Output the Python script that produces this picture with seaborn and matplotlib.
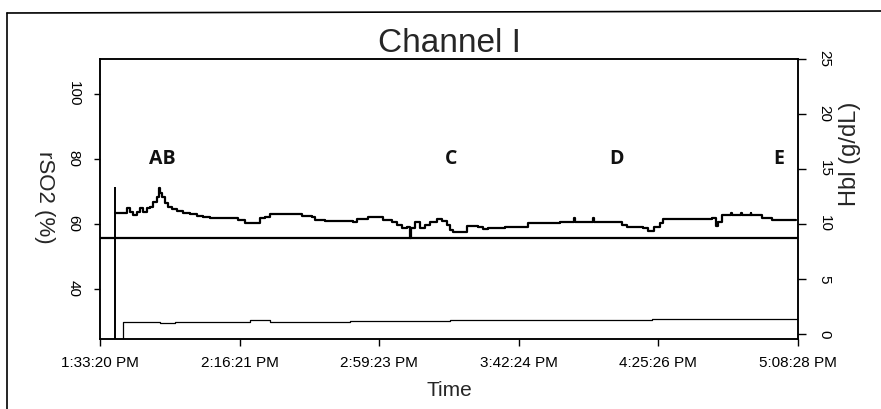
import matplotlib
matplotlib.use("Agg")
import matplotlib.pyplot as plt
from matplotlib.lines import Line2D
import seaborn as sns
import pandas as pd

# ---- data -------------------------------------------------------------
tick_labels = ["1:33:20 PM", "2:16:21 PM", "2:59:23 PM", "3:42:24 PM", "4:25:26 PM", "5:08:28 PM"]

# rSO2 trace (minutes since 1:33:20 PM, %)
rso2_t = [4.6, 8.2, 9.2, 10.2, 11.3, 12.3, 13.3, 14.4, 15.4, 16.4, 17.5, 18.3, 18.6, 19.0,
          20.0, 21.1, 22.1, 23.6, 25.7, 27.7, 29.8, 31.8, 33.9, 42.6, 44.7, 49.3, 50.9,
          52.4, 62.2, 65.2, 66.3, 69.3, 78.1, 79.1, 82.7, 87.3, 89.9, 91.4, 93.0, 94.5,
          95.5, 95.8, 97.1, 98.6, 100.2, 101.7, 103.8, 105.3, 106.9, 107.9, 108.9, 113.0,
          116.6, 118.1, 119.6, 124.8, 131.9, 141.8, 146.0, 146.4, 152.0, 152.4, 159.3,
          160.8, 162.4, 167.5, 169.0, 170.6, 172.6, 173.5, 188.5, 190.0, 190.4, 191.6,
          194.5, 194.8, 197.5, 197.8, 200.5, 200.8, 203.9, 207.0, 214.6]
rso2_v = [63.3, 64.8, 63.8, 62.8, 63.8, 64.8, 63.8, 64.8, 65.3, 66.9, 68.4, 71.2, 69.4, 68.4,
          66.4, 65.3, 64.5, 64.0, 63.5, 63.0, 62.5, 62.2, 61.8, 61.2, 60.2, 61.8, 62.2,
          63.0, 62.5, 62.2, 61.2, 60.9, 60.7, 61.4, 62.2, 61.2, 60.7, 59.7, 58.9, 59.2,
          55.6, 58.9, 60.7, 58.9, 59.7, 60.7, 61.5, 60.9, 59.7, 58.2, 57.6, 59.5,
          59.2, 58.4, 58.7, 59.2, 60.2, 60.7, 61.8, 60.7, 61.8, 60.7, 60.5,
          59.7, 59.2, 58.7, 57.8, 59.2, 60.2, 61.4, 61.9, 59.4, 60.7, 62.6,
          63.3, 62.6, 63.3, 62.6, 63.3, 62.6, 61.9, 61.2, 61.2]

# event marker and baseline (%)
marker_t = 4.6
marker_top = 71.4
baseline = 55.6

# HbI trace (minutes, g/dL)
hbi_t = [7.1, 15.4, 18.5, 23.1, 46.2, 52.4, 77.0, 108.0, 139.0, 170.0, 215.1]
hbi_v = [1.06, 1.06, 0.97, 1.06, 1.24, 1.13, 1.17, 1.26, 1.31, 1.40, 1.53]

# event annotations
event_labels = ["AB", "C", "D", "E"]
event_t = [19.1, 108.2, 159.3, 209.2]
event_y = 80

left_ticks = [40, 60, 80, 100]
right_ticks = [0, 5, 10, 15, 20, 25]

# ---- helpers ----------------------------------------------------------
def to_min(s):
    hms, ampm = s.split()
    h, m, sec = (int(p) for p in hms.split(":"))
    if ampm == "PM" and h != 12:
        h += 12
    return h * 60 + m + sec / 60.0

t0 = to_min(tick_labels[0])
tick_pos = [to_min(s) - t0 for s in tick_labels]

# ---- plot -------------------------------------------------------------
sns.set_style("white")
plt.rcParams["font.family"] = ["Liberation Sans", "DejaVu Sans"]

fig = plt.figure(figsize=(8.81, 4.09), dpi=100)
ax = fig.add_axes([100 / 881, 1 - 339 / 409, 698 / 881, (339 - 58.5) / 409])
ax2 = ax.twinx()

ylo, yhi = 24.6, 110.9
ax.set_ylim(ylo, yhi)
ax.set_xlim(tick_pos[0], tick_pos[-1])
ax2.set_ylim(-0.45, 24.95)

df = pd.DataFrame({"t": rso2_t, "v": rso2_v})
sns.lineplot(data=df, x="t", y="v", ax=ax, color="black", lw=1.6,
             drawstyle="steps-post", estimator=None, sort=False)
ax.vlines(marker_t, ylo, marker_top, color="black", lw=1.4)
ax.axhline(baseline, color="black", lw=1.6)

dh = pd.DataFrame({"t": hbi_t, "v": hbi_v})
sns.lineplot(data=dh, x="t", y="v", ax=ax2, color="black", lw=0.9,
             drawstyle="steps-post", estimator=None, sort=False)
ax2.vlines(hbi_t[0], -0.45, hbi_v[0], color="black", lw=0.9)

for lab, t in zip(event_labels, event_t):
    ax.text(t, event_y, lab, ha="center", va="center", fontsize=14,
            fontweight="bold", family=["Open Sans", "DejaVu Sans"], color="#111111")

ax.set_xticks(tick_pos)
ax.set_xticklabels(tick_labels, fontsize=11)
ax.set_yticks(left_ticks)
ax.set_yticklabels([str(v) for v in left_ticks], rotation=270, va="center", fontsize=11)
ax2.set_yticks(right_ticks)
ax2.set_yticklabels([str(v) for v in right_ticks], rotation=270, va="center", fontsize=11)

ax.tick_params(axis="x", direction="out", length=5, width=1, pad=7, bottom=True, colors="black")
ax.tick_params(axis="y", direction="out", length=4, width=1, pad=10, left=True, colors="black")
ax2.tick_params(axis="y", direction="out", length=6, width=1, pad=8, right=True, colors="black")

ax.set_xlabel("Time", fontsize=15, labelpad=8)
ax.set_ylabel("rSO2 (%)", fontsize=16, rotation=270, va="center", ha="center")
ax.yaxis.set_label_coords(-0.079, 0.506)
ax2.set_ylabel("Hbl (g/dL)", fontsize=17, rotation=90, va="center", ha="center")
ax2.yaxis.set_label_coords(1.074, 0.66)

ax.set_title("Channel I", fontsize=24, pad=5)

for a in (ax, ax2):
    for sp in a.spines.values():
        sp.set_color("black")
        sp.set_linewidth(1.1)

# outer frame of the scanned page
fig.add_artist(Line2D([7 / 881, 7 / 881], [0, 1 - 13 / 409], transform=fig.transFigure,
                      color="black", lw=1.2))
fig.add_artist(Line2D([7 / 881, 1], [1 - 13 / 409, 1 - 11 / 409], transform=fig.transFigure,
                      color="black", lw=1.2))

fig.savefig("out.png", dpi=100)
